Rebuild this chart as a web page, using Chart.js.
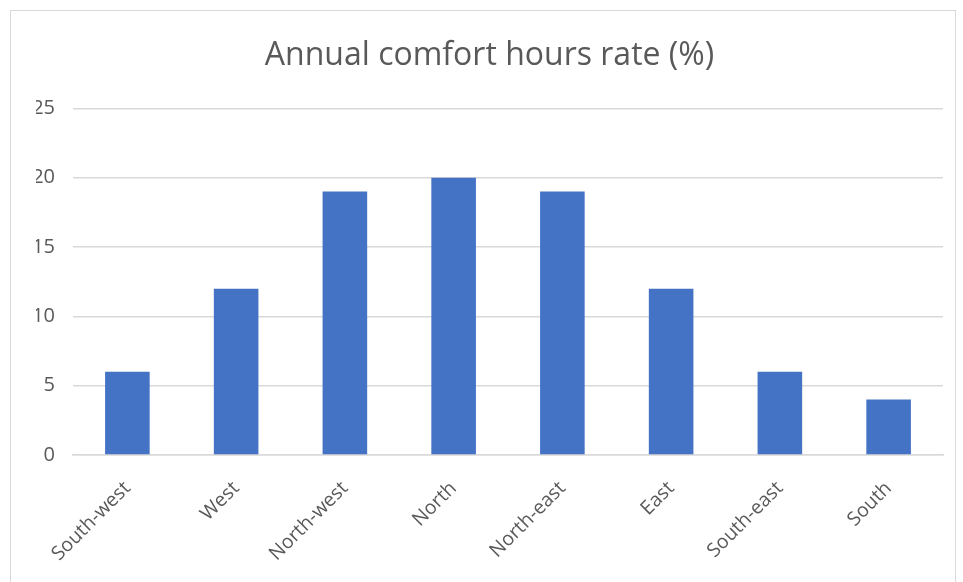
<!DOCTYPE html>
<html>
<head>
<meta charset="utf-8">
<script src="https://cdn.jsdelivr.net/npm/chart.js@4.4.0/dist/chart.umd.min.js"></script>
<style>
  html, body { margin: 0; padding: 0; background: #fff; }
  #frame { position: absolute; left: 10px; top: 10px; width: 946px; height: 580px; border: 1px solid #d9d9d9; box-sizing: border-box; }
  #wrap { position: absolute; left: 0; top: 0; width: 963px; height: 582px; }
</style>
</head>
<body>
<div id="frame"></div>
<div id="wrap"><canvas id="chart"></canvas></div>
<script>
const directions = ['South-west', 'West', 'North-west', 'North', 'North-east', 'East', 'South-east', 'South'] ;
const comfortRate = [6, 12, 19, 20, 19, 12, 6, 4] ; // annual comfort hours rate in %
const titleText = 'Annual comfort hours rate (%)' ;

const gray = '#595959' ;
const gridGray = '#d9d9d9' ;
const barBlue = '#4472c4' ;

const chartElement = document.getElementById('chart') ;

const chart = new Chart(chartElement, {
    type: 'bar',
    data: {
        labels: directions,
        datasets: [{
            data: comfortRate,
            backgroundColor: barBlue,
            borderWidth: 0,
            barPercentage: 0.41,
            categoryPercentage: 1.0
        }]
    },
    options: {
        responsive: true,
        maintainAspectRatio: false,
        animation: false,
        layout: {
            padding: { left: 36, right: 20, top: 0, bottom: 0 }
        },
        scales: {
            y: {
                min: 0,
                max: 25,
                ticks: {
                    stepSize: 5,
                    color: gray,
                    font: { family: 'Open Sans', size: 20 },
                    padding: 18
                },
                grid: { color: gridGray, lineWidth: 1.5, drawTicks: false },
                border: { display: false },
                afterFit(scale) { scale.width = 37 ; }
            },
            x: {
                ticks: {
                    color: gray,
                    font: { family: 'Open Sans', size: 19.5 },
                    minRotation: 45,
                    maxRotation: 45,
                    padding: 22
                },
                grid: { display: false, drawTicks: false },
                border: { color: gridGray, width: 1.5 },
                afterFit(scale) { scale.height = 127 ; }
            }
        },
        plugins: {
            legend: { display: false },
            tooltip: { enabled: false },
            title: {
                display: true,
                text: titleText,
                color: gray,
                font: { family: 'Open Sans', size: 32, weight: 'normal' },
                padding: { top: 37, bottom: 33 }
            }
        }
    }
});
</script>
</body>
</html>
